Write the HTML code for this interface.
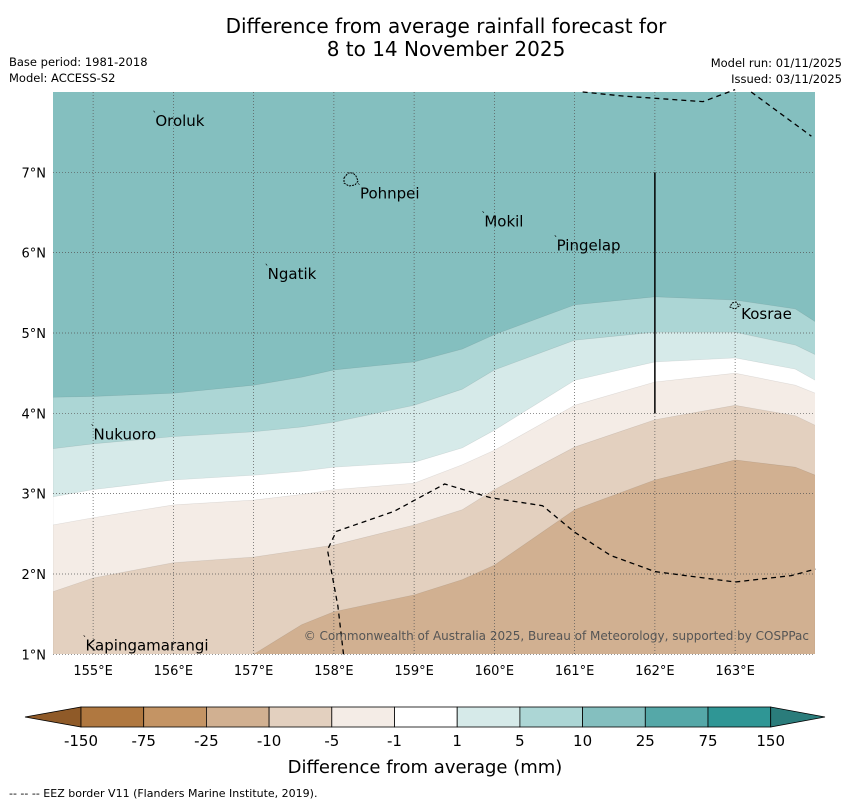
<!DOCTYPE html>
<html><head><meta charset="utf-8"><style>
body{margin:0;background:#fff;font-family:"DejaVu Sans","Liberation Sans",sans-serif}
svg text{font-family:"DejaVu Sans","Liberation Sans",sans-serif}
</style></head><body>
<svg id="chart" width="850" height="804" viewBox="0 0 850 804" xmlns="http://www.w3.org/2000/svg">
<text x="446" y="33" font-size="20" text-anchor="middle">Difference from average rainfall forecast for</text>
<text x="446" y="56" font-size="20" text-anchor="middle">8 to 14 November 2025</text>
<text x="9" y="66" font-size="11.5">Base period: 1981-2018</text>
<text x="9" y="82" font-size="11.5">Model: ACCESS-S2</text>
<text x="842" y="67" font-size="11.5" text-anchor="end">Model run: 01/11/2025</text>
<text x="842" y="83" font-size="11.5" text-anchor="end">Issued: 03/11/2025</text>
<defs><clipPath id="mapclip"><rect x="53" y="92" width="762" height="562"/></clipPath></defs>
<g id="map" clip-path="url(#mapclip)"></g>
<g id="overlay"></g>
<g id="cbar"></g>
<text x="425" y="773" font-size="18" text-anchor="middle">Difference from average (mm)</text>
<text x="9" y="797" font-size="11">--  --  -- EEZ border V11 (Flanders Marine Institute, 2019).</text>
</svg>
<script>
const lons=[154.5,155,156,157,157.6,158,159,159.6,160,161,162,163,163.75,164];
const b10=[4.20,4.21,4.25,4.35,4.45,4.54,4.64,4.80,4.98,5.35,5.45,5.41,5.30,5.14];
const b5=[3.56,3.62,3.71,3.77,3.83,3.89,4.10,4.30,4.54,4.91,5.01,5.01,4.85,4.73];
const b1=[2.96,3.05,3.17,3.23,3.28,3.33,3.39,3.57,3.79,4.41,4.64,4.69,4.55,4.41];
const bm1=[2.61,2.70,2.86,2.92,2.99,3.05,3.13,3.36,3.54,4.10,4.39,4.50,4.35,4.25];
const bm5=[1.78,1.95,2.14,2.21,2.30,2.36,2.61,2.80,3.05,3.58,3.92,4.10,3.97,3.85];
const bm10=[0.9,0.9,0.9,1.0,1.37,1.53,1.74,1.93,2.11,2.80,3.17,3.42,3.33,3.23];
const cbTicks=["-150","-75","-25","-10","-5","-1","1","5","10","25","75","150"];
const cbColors=["#b07840","#c49464","#d1b091","#e3d0bf","#f4ece6","#ffffff","#d6eae9","#acd6d5","#84bfbf","#55a8a8","#2f9695"];
const lonTicks=[155,156,157,158,159,160,161,162,163];
const latTicks=[1,2,3,4,5,6,7];
const places=[["Oroluk",155.75,7.6],["Pohnpei",158.3,6.7],["Mokil",159.85,6.35],["Pingelap",160.75,6.05],["Ngatik",157.15,5.7],["Kosrae",163.05,5.2],["Nukuoro",154.98,3.7],["Kapingamarangi",154.88,1.07]];
const eez1=[[161.1,8.0],[161.6,7.95],[162.6,7.88],[163.0,8.03]];
const eez2=[[163.2,8.0],[163.95,7.45]];
const eez3=[[158.12,1.0],[158.05,1.6],[157.92,2.3],[158.03,2.53],[158.75,2.78],[159.38,3.12],[159.95,2.95],[160.6,2.85],[161.0,2.52],[161.45,2.23],[162.0,2.03],[163.0,1.9],[163.7,1.98],[164.0,2.06]];
const NS="http://www.w3.org/2000/svg";
const X=lon=>53+(lon-154.5)*80.25;
const Y=lat=>92+(8-lat)*80.33;
function mk(tag,attrs,parent){const e=document.createElementNS(NS,tag);for(const k in attrs)e.setAttribute(k,attrs[k]);parent.appendChild(e);return e;}
const map=document.getElementById('map'),ov=document.getElementById('overlay'),cb=document.getElementById('cbar');
let r=mk('rect',{x:53,y:92,width:762,height:562,fill:'#84bfbf'},map);


const layers=[[b10,'#acd6d5','band-5-10'],[b5,'#d6eae9','band-1-5'],[b1,'#ffffff','band-neutral'],[bm1,'#f4ece6','band-minus1-minus5'],[bm5,'#e3d0bf','band-minus5-minus10'],[bm10,'#d1b091','band-minus10-minus25']];
layers.forEach(([b,c,n])=>{
 let d='M'+lons.map((l,i)=>X(l)+','+Y(b[i])).join(' L')+' L815,700 L53,700 Z';
 const p=mk('path',{d:d,fill:c,stroke:'rgba(0,0,0,0.1)','stroke-width':0.6},map);
 
 
});
lonTicks.forEach(l=>{
 const g=mk('line',{x1:X(l),x2:X(l),y1:92,y2:654,stroke:'#555','stroke-width':0.7,'stroke-dasharray':'1,2'},ov);
 
 
 const t=mk('text',{x:X(l),y:675,'font-size':13,'text-anchor':'middle'},ov);t.textContent=l+'°E';
 
 
});
latTicks.forEach(l=>{
 const g=mk('line',{x1:53,x2:815,y1:Y(l),y2:Y(l),stroke:'#555','stroke-width':0.7,'stroke-dasharray':'1,2'},ov);
 
 
 const t=mk('text',{x:46,y:Y(l)+5,'font-size':13,'text-anchor':'end'},ov);t.textContent=l+'°N';
 
 
});
[eez1,eez2,eez3].forEach(pts=>{
 const p=mk('polyline',{points:pts.map(q=>X(q[0])+','+Y(q[1])).join(' '),fill:'none',stroke:'#000','stroke-width':1.3,'stroke-dasharray':'5,4'},ov);
 
 
});
let vl=mk('line',{x1:X(162),x2:X(162),y1:Y(7),y2:Y(4),stroke:'#000','stroke-width':1.5},ov);


let isl=mk('path',{d:'M344,178 l4,-5 l5,0 l3,3 l2,5 l-3,4 l-6,1 l-5,-3 z M732,303 l4,-1 l3,4 l-4,3 l-5,-2 z',fill:'none',stroke:'#000','stroke-width':1,'stroke-dasharray':'2,1'},ov);


places.forEach(([n,lo,la])=>{
 const t=mk('text',{x:X(lo)+2,y:Y(la)+2,'font-size':15},ov);t.textContent=n;
 
 
 const m=mk('text',{x:X(lo)-1,y:Y(la)-6,'font-size':9},ov);m.textContent='ˋ';
 
 
});
let cr=mk('text',{x:809,y:640,'font-size':12,fill:'#555','text-anchor':'end'},ov);cr.textContent='© Commonwealth of Australia 2025, Bureau of Meteorology, supported by COSPPac';


const cx0=81,cw=62.7,cy=707,ch=20;
let lt=mk('polygon',{points:`25,717 ${cx0},${cy} ${cx0},${cy+ch}`,fill:'#8f5a28',stroke:'#000','stroke-width':0.8},cb);


cbColors.forEach((c,i)=>{
 const b=mk('rect',{x:cx0+i*cw,y:cy,width:cw,height:ch,fill:c,stroke:'#000','stroke-width':0.8},cb);
 
 
});
const xe=cx0+cbColors.length*cw;
let rt=mk('polygon',{points:`${xe},${cy} 825,717 ${xe},${cy+ch}`,fill:'#2a7c7b',stroke:'#000','stroke-width':0.8},cb);


cbTicks.forEach((t,i)=>{
 const e=mk('text',{x:cx0+i*cw,y:746,'font-size':15,'text-anchor':'middle'},cb);e.textContent=t;
 
 
});
</script>
</body></html>
